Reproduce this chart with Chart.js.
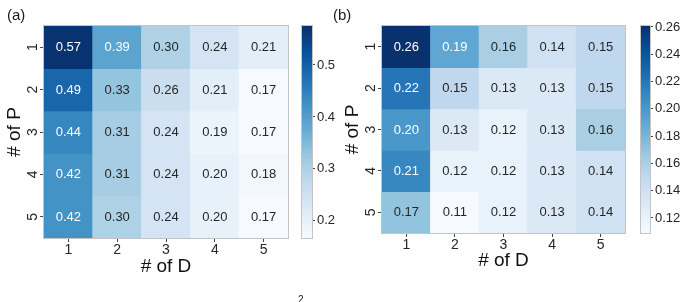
<!DOCTYPE html>
<html><head><meta charset="utf-8">
<script src="https://cdn.jsdelivr.net/npm/chart.js@4/dist/chart.umd.min.js"></script>
<style>
html,body{margin:0;padding:0;background:#fff;}
#wrap{position:relative;width:686px;height:302px;overflow:hidden;font-family:"Liberation Sans",Arial,sans-serif;background:#fff;}
canvas{position:absolute;top:0;}
.lab{position:absolute;font-size:15px;color:#1a1a1a;line-height:1;white-space:nowrap;}
</style></head><body>
<div id="wrap">
<canvas id="hmA" width="290" height="302" style="left:0px"></canvas>
<canvas id="cbA" width="50" height="302" style="left:300px"></canvas>
<canvas id="hmB" width="290" height="302" style="left:340px"></canvas>
<canvas id="cbB" width="47" height="302" style="left:639px"></canvas>
<div class="lab" style="left:7px;top:7px">(a)</div>
<div class="lab" style="left:333px;top:7px">(b)</div>
<div class="lab" style="left:298px;top:295px;font-size:10px">2</div>
</div>
<script>
// ---- data ----
const dLabels = ['1', '2', '3', '4', '5'];   // # of D (columns)
const pLabels = ['1', '2', '3', '4', '5'];   // # of P (rows)
const valuesA = [
  [0.57, 0.39, 0.30, 0.24, 0.21],
  [0.49, 0.33, 0.26, 0.21, 0.17],
  [0.44, 0.31, 0.24, 0.19, 0.17],
  [0.42, 0.31, 0.24, 0.20, 0.18],
  [0.42, 0.30, 0.24, 0.20, 0.17]
];
const valuesB = [
  [0.26, 0.19, 0.16, 0.14, 0.15],
  [0.22, 0.15, 0.13, 0.13, 0.15],
  [0.20, 0.13, 0.12, 0.13, 0.16],
  [0.21, 0.12, 0.12, 0.13, 0.14],
  [0.17, 0.11, 0.12, 0.13, 0.14]
];
const rangeA = [0.167, 0.575];
const rangeB = [0.109, 0.2607];
const cbTicksA = [0.2, 0.3, 0.4, 0.5];
const cbTickLabelsA = ['0.2', '0.3', '0.4', '0.5'];
const cbTicksB = [0.12, 0.14, 0.16, 0.18, 0.20, 0.22, 0.24, 0.26];
const cbTickLabelsB = ['0.12', '0.14', '0.16', '0.18', '0.20', '0.22', '0.24', '0.26'];

// ---- colormap (matplotlib Blues) ----
const BLUES = ['#f7fbff','#deebf7','#c6dbef','#9ecae1','#6baed6','#4292c6','#2171b5','#08519c','#08306b'];
function hex2rgb(h){return [parseInt(h.slice(1,3),16),parseInt(h.slice(3,5),16),parseInt(h.slice(5,7),16)];}
const BLUES_RGB = BLUES.map(hex2rgb);
function bluesRGB(t){
  t = Math.max(0, Math.min(1, t));
  const p = t * (BLUES_RGB.length - 1);
  const i = Math.min(Math.floor(p), BLUES_RGB.length - 2);
  const f = p - i;
  return BLUES_RGB[i].map((c, k) => c + (BLUES_RGB[i+1][k] - c) * f);
}
function rgbStr(c){return 'rgb(' + c.map(Math.round).join(',') + ')';}
function lum(c){
  const l = c.map(v => { v /= 255; return v <= 0.03928 ? v / 12.92 : Math.pow((v + 0.055) / 1.055, 2.4); });
  return 0.2126*l[0] + 0.7152*l[1] + 0.0722*l[2];
}
const FONT = '"Liberation Sans", Arial, sans-serif';
const TXT = '#262626';

const cellLabels = {
  id: 'cellLabels',
  afterDatasetsDraw(chart){
    const ctx = chart.ctx;
    ctx.save();
    ctx.font = '13px ' + FONT;
    ctx.textAlign = 'center';
    ctx.textBaseline = 'middle';
    chart.data.datasets.forEach((ds, i) => {
      const meta = chart.getDatasetMeta(i);
      meta.data.forEach((bar, j) => {
        ctx.fillStyle = ds.textColors[j];
        ctx.fillText(ds.values[j].toFixed(2), bar.x, (bar.y + bar.base) / 2 + 0.5);
      });
    });
    ctx.restore();
  }
};
const frame = {
  id: 'frame',
  afterDatasetsDraw(chart){
    const {left, top, right, bottom} = chart.chartArea;
    const ctx = chart.ctx;
    ctx.save();
    ctx.strokeStyle = '#c4c4c4';
    ctx.lineWidth = 1;
    ctx.strokeRect(Math.round(left) - 0.5, Math.round(top) - 0.5, Math.round(right - left) + 1, Math.round(bottom - top) + 1);
    ctx.restore();
  }
};

function heatmap(id, values, range, L){
  const datasets = values.map((row, i) => {
    const cols = row.map(v => bluesRGB((v - range[0]) / (range[1] - range[0])));
    return {
      data: dLabels.map(() => [i, i + 1]),
      values: row,
      backgroundColor: cols.map(rgbStr),
      textColors: cols.map(c => lum(c) > 0.408 ? TXT : '#ffffff'),
      borderWidth: 0,
      grouped: false,
      barPercentage: 1,
      categoryPercentage: 1,
      inflateAmount: 0.5
    };
  });
  return new Chart(document.getElementById(id), {
    type: 'bar',
    data: {labels: dLabels, datasets},
    plugins: [cellLabels, frame],
    options: {
      responsive: false, animation: false, devicePixelRatio: 1,
      layout: {padding: {left: 0, top: 26, right: L.padR, bottom: 0}},
      plugins: {legend: {display: false}, tooltip: {enabled: false}},
      scales: {
        x: {
          type: 'category',
          afterFit: s => { s.height = L.xH; },
          ticks: {font: {size: 14, family: FONT}, color: TXT, padding: 0, maxRotation: 0},
          grid: {offset: false, drawOnChartArea: false, drawTicks: true, tickLength: 4, color: '#444'},
          border: {display: false},
          title: {display: true, text: '# of D', font: {size: 19, family: FONT}, color: '#111', padding: {top: 0, bottom: L.xTitlePad}}
        },
        y: {
          type: 'linear', min: 0, max: pLabels.length, reverse: true,
          afterBuildTicks: s => { s.ticks = pLabels.map((_, i) => ({value: i + 0.5})); },
          afterFit: s => { s.width = L.yW; },
          ticks: {callback: (v, i) => pLabels[i], minRotation: 90, maxRotation: 90, crossAlign: 'center', padding: 3, font: {size: 14, family: FONT}, color: TXT},
          grid: {drawOnChartArea: false, drawTicks: true, tickLength: 4, color: '#444'},
          border: {display: false},
          title: {display: true, text: '# of P', font: {size: 19, family: FONT}, color: '#111', padding: {top: L.yTitlePad, bottom: 0}}
        }
      }
    }
  });
}

function colorbar(id, range, ticks, labels, L){
  return new Chart(document.getElementById(id), {
    type: 'bar',
    data: {labels: ['cb'], datasets: [{
      data: [[range[0], range[1]]],
      borderWidth: 0, barPercentage: 1, categoryPercentage: 1, inflateAmount: 0,
      backgroundColor: (c) => {
        const ca = c.chart.chartArea;
        if (!ca) return '#ccc';
        const g = c.chart.ctx.createLinearGradient(0, ca.bottom, 0, ca.top);
        BLUES.forEach((col, k) => g.addColorStop(k / (BLUES.length - 1), col));
        return g;
      }
    }]},
    plugins: [frame],
    options: {
      responsive: false, animation: false, devicePixelRatio: 1,
      layout: {padding: {left: 2, right: 0, top: 26, bottom: L.padB}},
      plugins: {legend: {display: false}, tooltip: {enabled: false}},
      scales: {
        x: {display: false},
        y: {
          position: 'right', min: range[0], max: range[1],
          afterBuildTicks: s => { s.ticks = ticks.map(v => ({value: v})); },
          afterFit: s => { s.width = L.yW; },
          ticks: {callback: (v, i) => labels[i], padding: 2, font: {size: 13, family: FONT}, color: TXT},
          grid: {drawOnChartArea: false, drawTicks: true, tickLength: 3, color: '#444'},
          border: {display: false}
        }
      }
    }
  });
}

heatmap('hmA', valuesA, rangeA, {padR: 2, xH: 64, yW: 44, xTitlePad: 24, yTitlePad: 3});
colorbar('cbA', rangeA, cbTicksA, cbTickLabelsA, {padB: 64, yW: 38});
heatmap('hmB', valuesB, rangeB, {padR: 5, xH: 69, yW: 42, xTitlePad: 30, yTitlePad: 1});
colorbar('cbB', rangeB, cbTicksB, cbTickLabelsB, {padB: 69, yW: 36});
</script>
</body></html>
